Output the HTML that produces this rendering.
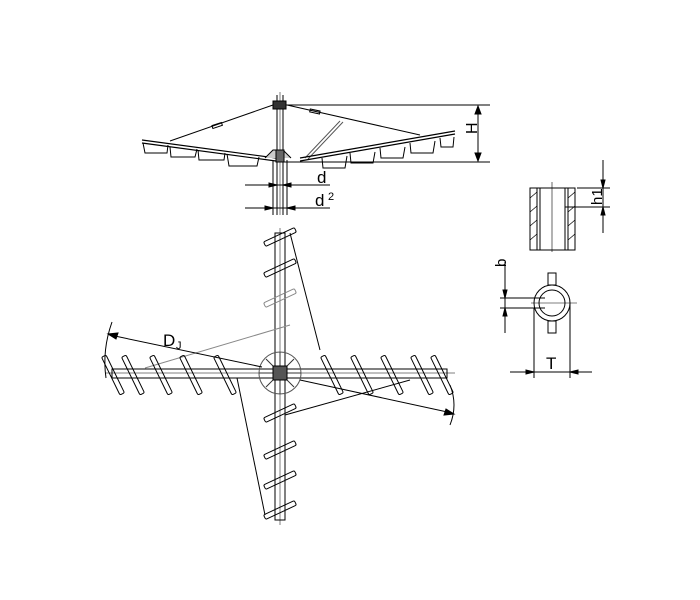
<!DOCTYPE html>
<html><head><style>body{margin:0;background:#fff}svg{display:block}</style></head><body>
<svg width="700" height="600" viewBox="0 0 700 600" xmlns="http://www.w3.org/2000/svg" font-family="Liberation Sans, sans-serif">
<defs>
<rect id="hb" x="-2.5" y="-21" width="5" height="42" rx="1.5"/>
<rect id="vb" x="-17" y="-2.5" width="34" height="5" rx="1.5"/>
</defs>
<g stroke="#000" fill="none" stroke-width="1">
<line x1="277" y1="95" x2="277" y2="215"/><line x1="283" y1="95" x2="283" y2="215"/><line x1="280" y1="92" x2="280" y2="215" stroke-width="0.5"/>
<rect x="273" y="101" width="13" height="8" fill="#333"/>
<line x1="286" y1="105" x2="490" y2="105"/>
<line x1="284" y1="162" x2="490" y2="162"/>
<line x1="478" y1="107" x2="478" y2="160"/>
<path d="M478 106 l-3 8 h6z M478 161 l-3 -8 h6z" fill="#000"/>
<line x1="273" y1="105" x2="170" y2="141"/>
<rect x="212" y="124" width="10" height="3" transform="rotate(-18 217 125)"/>
<path d="M142 140 L276 158 M142 143 L276 161" stroke-width="1.2"/>
<path d="M143 143 l2 10 h22 l1 -8 M170 147 l1 10 h24 l2 -8 M198 150 l1 10 h25 l1 -7 M227 154 l2 12 h28 l2 -9"/>
<path d="M265 158 l8 -8 h10 l8 8" fill="#ccc"/>
<rect x="276" y="150" width="8" height="12" fill="#666"/>
<line x1="287" y1="105" x2="420" y2="135"/>
<rect x="310" y="110" width="10" height="3" transform="rotate(12 315 111)"/>
<path d="M340 121 L305 158 M343 122 L308 159" stroke="#555"/>
<path d="M300 161 L455 134 M300 158 L455 131" stroke-width="1.2"/>
<path d="M322 158 l1 10 h22 l2 -12 M350 153 l1 10 h22 l2 -11 M380 148 l1 10 h22 l2 -11 M410 143 l1 10 h22 l2 -12 M440 138 l1 9 h12 l1 -10"/>
<line x1="245" y1="185" x2="330" y2="185"/><line x1="245" y1="208" x2="330" y2="208"/>
<path d="M277 185 l-8 -2 v4z M283 185 l8 -2 v4z M273 208 l-8 -2 v4z M287 208 l8 -2 v4z" fill="#000"/>
<line x1="273" y1="160" x2="273" y2="215"/><line x1="287" y1="160" x2="287" y2="215"/>
</g>
<text x="317" y="183" font-size="17">d</text>
<text x="315" y="206" font-size="17">d</text><text x="328" y="200" font-size="11">2</text>
<text x="466" y="133" font-size="16" transform="rotate(-90 472 128)">H</text>

<g stroke="#000" fill="none" stroke-width="1">
<rect x="275" y="233" width="10" height="287" fill="#fff"/><line x1="280" y1="228" x2="280" y2="525" stroke-width="0.5"/>
<rect x="112" y="369" width="335" height="9" fill="#fff"/><line x1="105" y1="373" x2="455" y2="373" stroke-width="0.5"/>
<circle cx="280" cy="373" r="21" stroke="#555"/>
<path d="M266 359 L294 387 M294 359 L266 387 M280 352 V394 M259 373 H301" stroke="#333"/>
<rect x="273" y="366" width="14" height="14" fill="#555"/>
<path d="M290 233 L320 350" /><path d="M145 368 L290 325" stroke="#888"/>
<path d="M237 378 L265 515"/><path d="M285 415 L410 380"/>
<path d="M110 335 L262 367"/><path d="M300 380 L452 413"/>
<path d="M108 334 l10 -1 l-2 6z M454 414 l-10 1 l2 -6z" fill="#000"/>
<path d="M112 322 Q102 350 106 378" /><path d="M450 385 Q458 405 450 425"/>
</g>
<g stroke="#000" fill="none" stroke-width="1">
<use href="#hb" transform="translate(113 375) rotate(-26)"/>
<use href="#hb" transform="translate(133 375) rotate(-26)"/>
<use href="#hb" transform="translate(161 375) rotate(-26)"/>
<use href="#hb" transform="translate(191 375) rotate(-26)"/>
<use href="#hb" transform="translate(225 375) rotate(-26)"/>
<use href="#hb" transform="translate(332 375) rotate(-26)"/>
<use href="#hb" transform="translate(362 375) rotate(-26)"/>
<use href="#hb" transform="translate(392 375) rotate(-26)"/>
<use href="#hb" transform="translate(422 375) rotate(-26)"/>
<use href="#hb" transform="translate(442 375) rotate(-26)"/>
<use href="#vb" transform="translate(280 237) rotate(-25)"/>
<use href="#vb" transform="translate(280 268) rotate(-25)"/>
<use href="#vb" transform="translate(280 298) rotate(-25)" stroke="#888"/>
<use href="#vb" transform="translate(280 413) rotate(-25)"/>
<use href="#vb" transform="translate(280 450) rotate(-25)"/>
<use href="#vb" transform="translate(280 480) rotate(-25)"/>
<use href="#vb" transform="translate(280 510) rotate(-25)"/>
</g>
<text x="163" y="346" font-size="17">D</text><text x="176" y="349" font-size="11">J</text>

<g stroke="#000" fill="none" stroke-width="1">
<rect x="530" y="188" width="45" height="62"/>
<line x1="537" y1="188" x2="537" y2="250"/><line x1="540" y1="188" x2="540" y2="250"/>
<line x1="565" y1="188" x2="565" y2="250"/><line x1="568" y1="188" x2="568" y2="250"/>
<line x1="552" y1="182" x2="552" y2="252" stroke-width="0.6"/>
<path d="M530 198 l7 -6 M530 212 l7 -6 M530 226 l7 -6 M530 240 l7 -6 M568 198 l7 -6 M568 212 l7 -6 M568 226 l7 -6 M568 240 l7 -6" stroke-width="0.7"/>
<line x1="577" y1="188" x2="610" y2="188"/><line x1="565" y1="207" x2="610" y2="207"/>
<line x1="603" y1="160" x2="603" y2="233"/>
<path d="M603 188 l-2 -8 h4z M603 207 l-2 8 h4z" fill="#000"/>
<circle cx="552" cy="303" r="18"/>
<circle cx="552" cy="303" r="13"/>
<rect x="548" y="273" width="8" height="12"/><rect x="548" y="321" width="8" height="12"/>
<line x1="531" y1="303" x2="577" y2="303" stroke-width="0.6"/>
<line x1="505" y1="262" x2="505" y2="333"/>
<line x1="500" y1="298" x2="545" y2="298"/><line x1="500" y1="308" x2="545" y2="308"/>
<path d="M505 298 l-2 -8 h4z M505 308 l-2 8 h4z" fill="#000"/>
<line x1="534" y1="308" x2="534" y2="378"/><line x1="570" y1="303" x2="570" y2="378"/>
<line x1="510" y1="372" x2="592" y2="372"/>
<path d="M534 372 l-8 -2 v4z M570 372 l8 -2 v4z" fill="#000"/>
</g>
<text x="497" y="266" font-size="15" transform="rotate(-90 502 262)">b</text>
<text x="591" y="206" font-size="15" transform="rotate(-90 596 200)">h1</text>
<text x="546" y="369" font-size="17">T</text>
</svg>
</body></html>
